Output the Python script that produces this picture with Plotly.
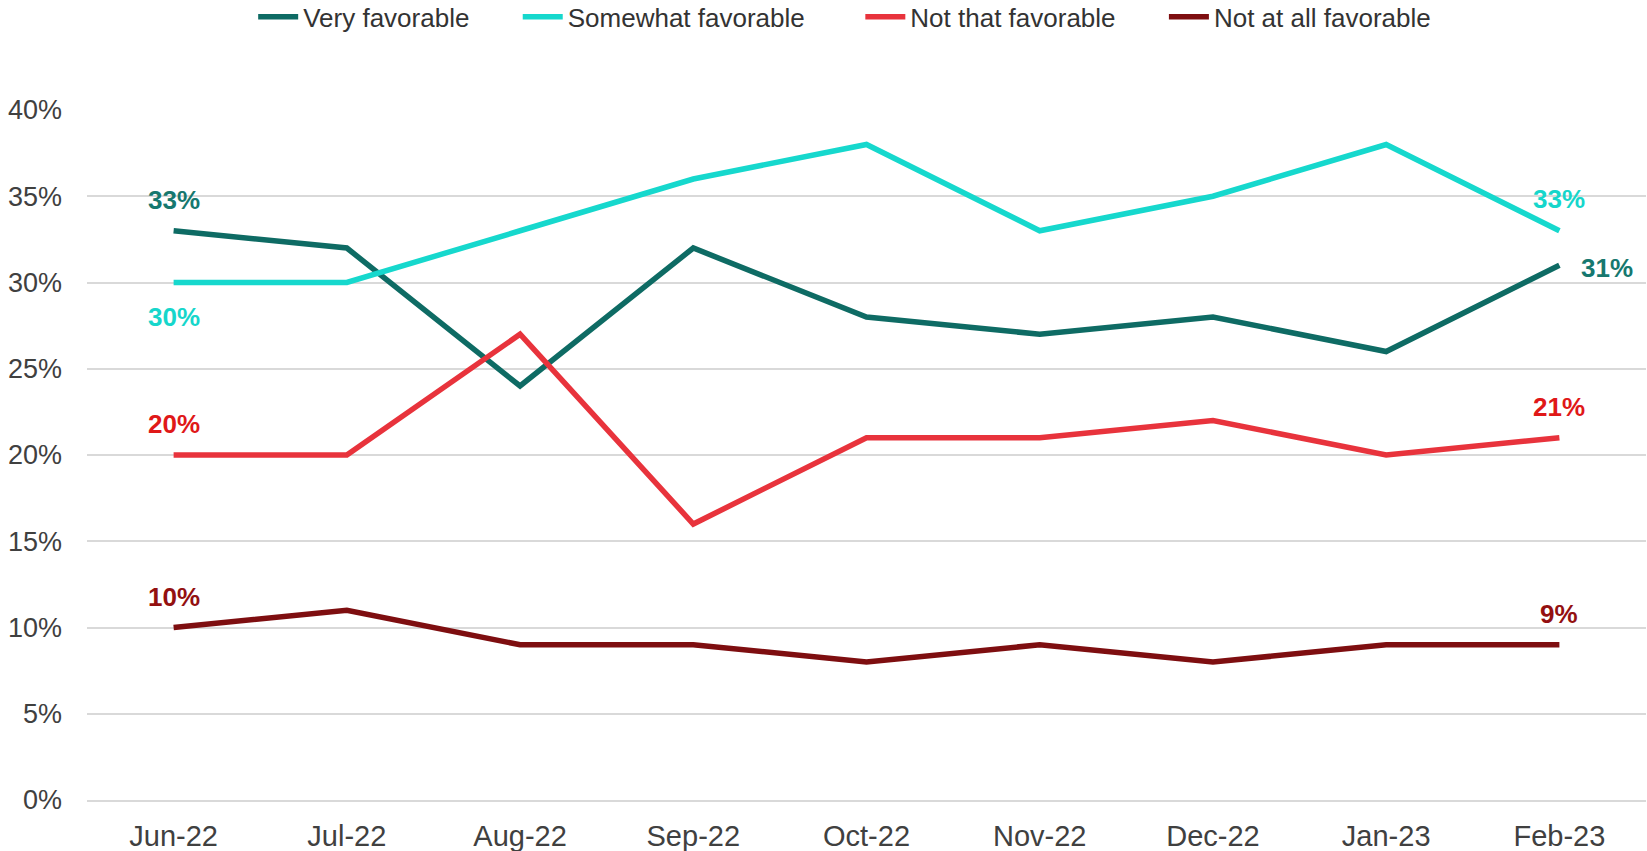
import plotly.graph_objects as go

months = ["Jun-22", "Jul-22", "Aug-22", "Sep-22", "Oct-22", "Nov-22", "Dec-22", "Jan-23", "Feb-23"]
very_fav = [33, 32, 24, 32, 28, 27, 28, 26, 31]
somewhat_fav = [30, 30, 33, 36, 38, 33, 35, 38, 33]
not_that_fav = [20, 20, 27, 16, 21, 21, 22, 20, 21]
not_at_all_fav = [10, 11, 9, 9, 8, 9, 8, 9, 9]

series = [
    ("Very favorable", very_fav, "#0E6B64", "#16786F"),
    ("Somewhat favorable", somewhat_fav, "#16D8CD", "#16D6CB"),
    ("Not that favorable", not_that_fav, "#E8333C", "#E01818"),
    ("Not at all favorable", not_at_all_fav, "#7E0E10", "#931010"),
]
legend_pad = [6, 7, 6, 0]

FONT = "Liberation Sans, Arial, sans-serif"

fig = go.Figure()
for i, (name, vals, col, _) in enumerate(series):
    fig.add_trace(go.Scatter(
        x=months, y=[v / 100 for v in vals], mode="lines",
        name=name + "\u00a0" * legend_pad[i],
        line=dict(color=col, width=5.5),
    ))

# label placements: (series index, point index, xshift, yshift)
label_spec = [
    (0, 0, 0, 31), (0, 8, 48, -3),
    (1, 0, 0, -34), (1, 8, 0, 32),
    (2, 0, 0, 31), (2, 8, 0, 31),
    (3, 0, 0, 31), (3, 8, 0, 31),
]
for si, pi, xs, ys in label_spec:
    name, vals, col, lcol = series[si]
    fig.add_annotation(
        x=months[pi], y=vals[pi] / 100, xref="x", yref="y",
        text=f"<b>{vals[pi]}%</b>", showarrow=False,
        xshift=xs, yshift=ys,
        font=dict(family=FONT, size=26, color=lcol),
    )

fig.update_layout(
    width=1647, height=851,
    margin=dict(l=87, r=1, t=110, b=51, autoexpand=False),
    paper_bgcolor="white", plot_bgcolor="white",
    font=dict(family=FONT, color="#404040"),
    showlegend=True,
    legend=dict(
        orientation="h", x=0.486, xanchor="center", y=1.135, yanchor="middle",
        font=dict(family=FONT, size=26, color="#333333"),
        itemwidth=40, tracegroupgap=0, bgcolor="rgba(0,0,0,0)",
    ),
    xaxis=dict(
        type="category", range=[-0.5, 8.5], showgrid=False, showline=True,
        linecolor="#D9D9D9", linewidth=1.5,
        ticks="", tickfont=dict(family=FONT, size=29, color="#404040"),
        ticklabelstandoff=9, fixedrange=True,
    ),
    yaxis=dict(
        range=[0, 0.4], dtick=0.05, tickformat=".0%",
        showgrid=True, gridcolor="#D9D9D9", gridwidth=1.5,
        zeroline=False, showline=False, ticks="",
        tickfont=dict(family=FONT, size=27, color="#404040"),
        ticklabelstandoff=24, fixedrange=True,
    ),
)

fig.write_html(
    "out.html",
    config={"displayModeBar": False},
    post_script="document.body.style.margin='0';",
)
